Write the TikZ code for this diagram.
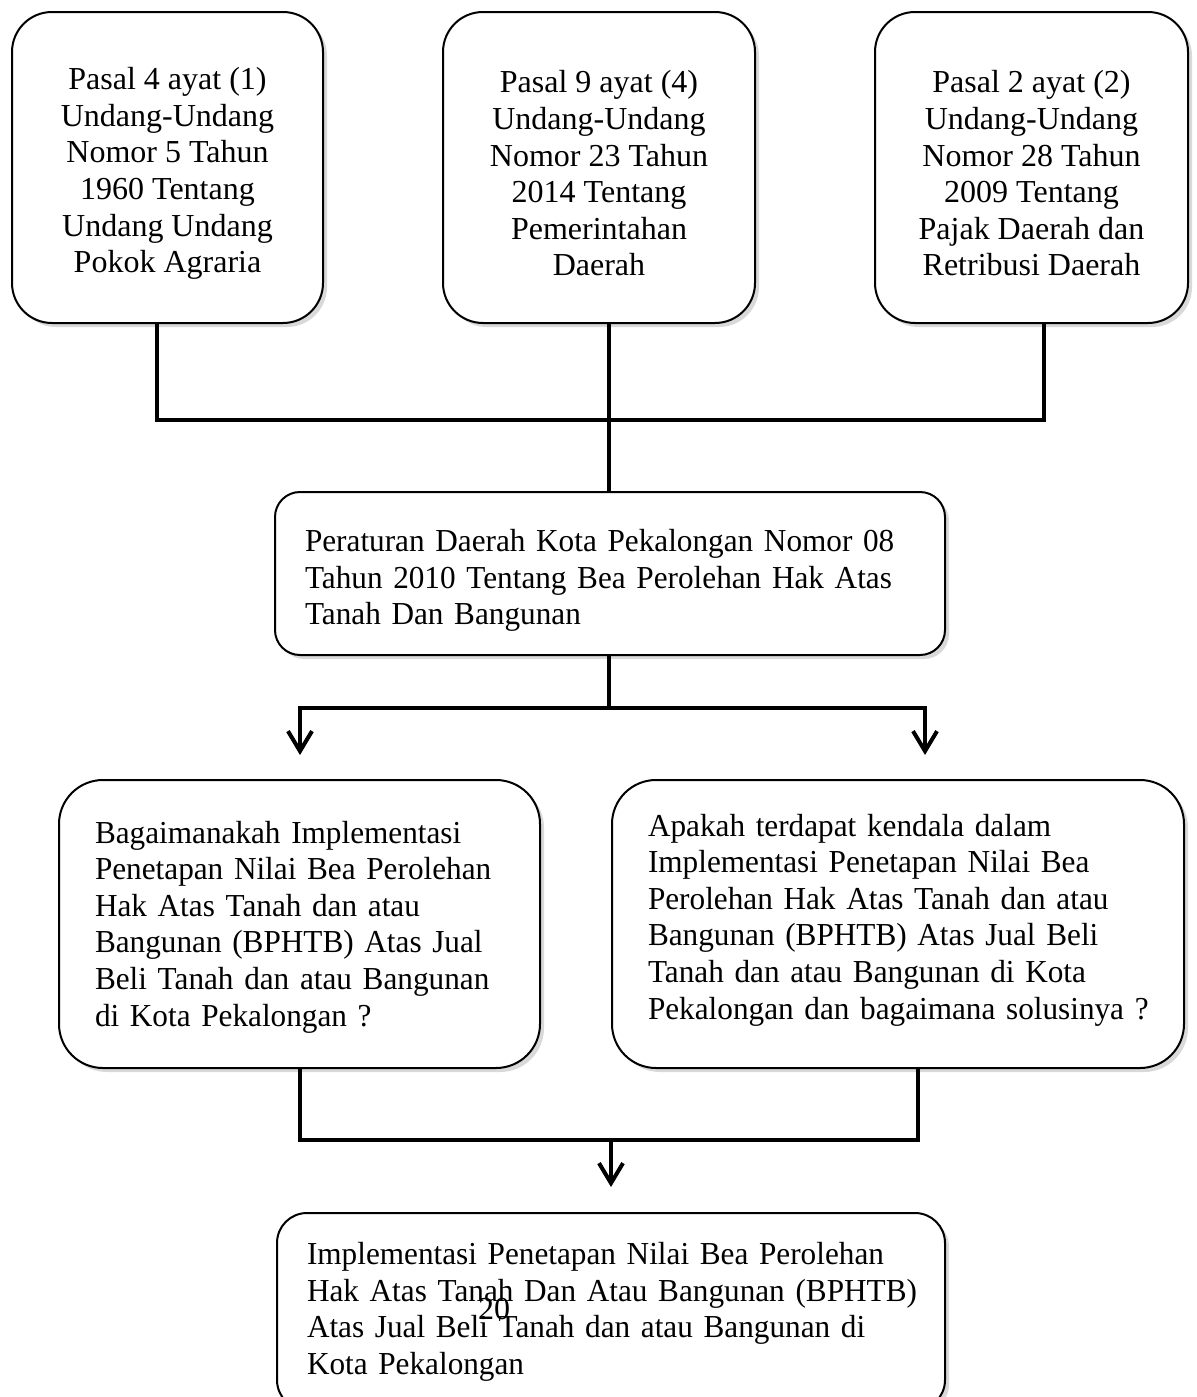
\documentclass[tikz,border=0pt]{standalone}
\usepackage{fontspec}
\setmainfont{Liberation Serif}
\newfontfamily\condserif[FakeStretch=0.976]{Liberation Serif}
\usetikzlibrary{arrows.meta,shadows}
\newcommand\mline[1]{\mbox{#1}}
\newcommand\qfont{\condserif\fontsize{16}{18.3}\selectfont}
\begin{document}
\begin{tikzpicture}[x=0.5pt,y=-0.5pt,
  box/.style={draw=black, line width=1pt, fill=white, inner sep=0pt,
    drop shadow={shadow xshift=2pt,shadow yshift=-2pt,fill=black,opacity=0.15}},
  toptext/.style={inner sep=0pt, align=center, font=\fontsize{16}{18.3}\selectfont},
  qtext/.style={inner sep=0pt, align=left, font=\qfont},
  conn/.style={line width=2.2pt, line join=miter},
  barb/.tip={Straight Barb[length=10pt,width=12pt,line width=2pt]}]
\useasboundingbox (0,0) rectangle (1196,1397);
% top row
\node[box, rounded corners=20pt, minimum width=155.5pt, minimum height=155.5pt] (b1) at (167.5,167.5) {};
\node[toptext] (t1) at (167.5,173.5) {Pasal 4 ayat (1)\\Undang-Undang\\Nomor 5 Tahun\\1960 Tentang\\Undang Undang\\Pokok Agraria};
\node[box, rounded corners=20pt, minimum width=156pt, minimum height=155.5pt] (b2) at (599,167.5) {};
\node[toptext] (t2) at (599,173.5) {Pasal 9 ayat (4)\\Undang-Undang\\Nomor 23 Tahun\\2014 Tentang\\Pemerintahan\\Daerah};
\node[box, rounded corners=20pt, minimum width=156.5pt, minimum height=155.5pt] (b3) at (1031.5,167.5) {};
\node[toptext] (t3) at (1031.5,173.5) {Pasal 2 ayat (2)\\Undang-Undang\\Nomor 28 Tahun\\2009 Tentang\\Pajak Daerah dan\\Retribusi Daerah};
% middle
\node[box, rounded corners=12.5pt, minimum width=335pt, minimum height=81.5pt] (b4) at (610,573.5) {};
\node[qtext, text width=305pt] (t4) at (610,580.5) {\mline{Peraturan Daerah Kota Pekalongan Nomor 08}\\\mline{Tahun 2010 Tentang Bea Perolehan Hak Atas}\\\mline{Tanah Dan Bangunan}};
% questions
\node[box, rounded corners=22pt, minimum width=240.5pt, minimum height=144pt] (b5) at (299.5,924) {};
\node[qtext, text width=204.5pt] (t5) at (299.5,927) {\mline{Bagaimanakah Implementasi}\\\mline{Penetapan Nilai Bea Perolehan}\\\mline{Hak Atas Tanah dan atau}\\\mline{Bangunan (BPHTB) Atas Jual}\\\mline{Beli Tanah dan atau Bangunan}\\\mline{di Kota Pekalongan ?}};
\node[box, rounded corners=22pt, minimum width=286pt, minimum height=144pt] (b6) at (898,924) {};
\node[qtext, text width=251.5pt] (t6) at (899.5,920) {\mline{Apakah terdapat kendala dalam}\\\mline{Implementasi Penetapan Nilai Bea}\\\mline{Perolehan Hak Atas Tanah dan atau}\\\mline{Bangunan (BPHTB) Atas Jual Beli}\\\mline{Tanah dan atau Bangunan di Kota}\\\mline{Pekalongan dan bagaimana solusinya ?}};
% result
\node[box, rounded corners=15pt, minimum width=334pt, minimum height=98.5pt] (b7) at (611,1311.5) {};
\node[qtext, text width=304pt] (t7) at (611,1312) {\mline{Implementasi Penetapan Nilai Bea Perolehan}\\\mline{Hak Atas Tanah Dan Atau Bangunan (BPHTB)}\\\mline{Atas Jual Beli Tanah dan atau Bangunan di}\\\mline{Kota Pekalongan}};
\node[font=\fontsize{16}{18}\selectfont, inner sep=0pt] (pg) at (494,1309) {20};
% connectors
\coordinate (jA) at (157,420);
\coordinate (jB) at (609,420);
\coordinate (jC) at (1044,420);
\draw[conn] (b1.south -| jA) -- (jA) -- (jC) -- (b3.south -| jC);
\draw[conn] (b2.south -| jB) -- (b4.north -| jB);
\coordinate (jD) at (609,708);
\coordinate (jL) at (300,708);
\coordinate (jR) at (925,708);
\coordinate (aL) at (300,755);
\coordinate (aR) at (925,755);
\draw[conn] (b4.south -| jD) -- (jD);
\draw[conn, barb-barb] (aL) -- (jL) -- (jR) -- (aR);
\coordinate (jE) at (300,1140);
\coordinate (jF) at (918,1140);
\coordinate (jG) at (611,1140);
\coordinate (aG) at (611,1187);
\draw[conn] (b5.south -| jE) -- (jE) -- (jF) -- (b6.south -| jF);
\draw[conn, -barb] (jG) -- (aG);
\end{tikzpicture}
\end{document}
